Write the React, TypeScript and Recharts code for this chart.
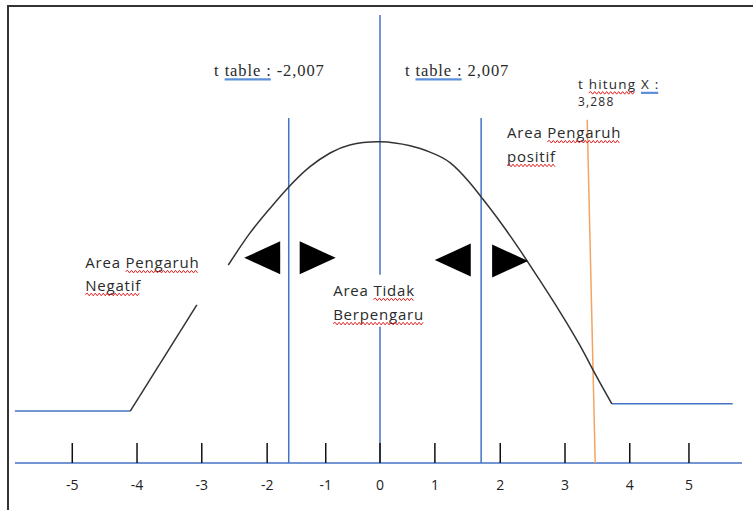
import { ComposedChart, Line, Scatter, XAxis, YAxis } from "recharts";

// x runs in t units, y is a 0..1 height of the sketch
const tickLabels = ["-5", "-4", "-3", "-2", "-1", "0", "1", "2", "3", "4", "5"];
// where each hand-drawn tick sits on the axis
const tickAt = [-4.99, -3.94, -2.89, -1.83, -0.88, 0, 0.89, 1.95, 3.0, 4.05, 5.01];

const baseline = [
  { x: -5.92, y: 0 },
  { x: 5.87, y: 0 },
];
const flatLeft = [
  { x: -5.92, y: 0.116 },
  { x: -4.05, y: 0.116 },
];
const flatRight = [
  { x: 3.76, y: 0.132 },
  { x: 5.72, y: 0.132 },
];
const curveLeft = [
  { x: -4.05, y: 0.116 },
  { x: -2.97, y: 0.353 },
];
const curveMain = [
  { x: -2.46, y: 0.442 },
  { x: -2.11, y: 0.513 },
  { x: -1.78, y: 0.569 },
  { x: -1.48, y: 0.616 },
  { x: -1.14, y: 0.661 },
  { x: -0.81, y: 0.692 },
  { x: -0.49, y: 0.71 },
  { x: 0, y: 0.717 },
  { x: 0.49, y: 0.708 },
  { x: 0.81, y: 0.694 },
  { x: 1.14, y: 0.67 },
  { x: 1.46, y: 0.625 },
  { x: 1.64, y: 0.594 },
  { x: 1.95, y: 0.538 },
  { x: 2.27, y: 0.475 },
  { x: 2.59, y: 0.408 },
  { x: 2.92, y: 0.337 },
  { x: 3.24, y: 0.263 },
  { x: 3.5, y: 0.196 },
  { x: 3.76, y: 0.132 },
];

const centerTop = [
  { x: 0, y: 1 },
  { x: 0, y: 0.42 },
];
const centerBottom = [
  { x: 0, y: 0.304 },
  { x: 0, y: 0 },
];
const tTableLeft = [
  { x: -1.48, y: 0.77 },
  { x: -1.48, y: 0 },
];
const tTableRight = [
  { x: 1.64, y: 0.77 },
  { x: 1.64, y: 0 },
];
const tHitungLine = [
  { x: 3.36, y: 0.766 },
  { x: 3.49, y: 0 },
];

const arrows = [
  { x: -1.91, y: 0.458, dir: "left" },
  { x: -1.01, y: 0.458, dir: "right" },
  { x: 1.18, y: 0.453, dir: "left" },
  { x: 2.11, y: 0.451, dir: "right" },
];

const tickPoints = tickAt.map((v, i) => ({ x: v, y: 0, label: tickLabels[i] }));

// each part: [text, kind] where kind is "" / wavy / blue
type Part = [string, string];
const notes: { x: number; y: number; font: string; size: number; parts: Part[] }[] = [
  { x: -2.69, y: 0.864, font: "serif", size: 16.5, parts: [["t ", ""], ["table :", "blue"], [" -2,007", ""]] },
  { x: 0.405, y: 0.864, font: "serif", size: 16.5, parts: [["t ", ""], ["table :", "blue"], [" 2,007", ""]] },
  { x: 3.21, y: 0.834, font: "sans", size: 13.5, parts: [["t ", ""], ["hitung", "wavy"], [" ", ""], ["X :", "blue"]] },
  { x: 3.21, y: 0.797, font: "sans", size: 12, parts: [["3,288", ""]] },
  { x: 2.06, y: 0.725, font: "sans", size: 15, parts: [["Area ", ""], ["Pengaruh", "wavy"]] },
  { x: 2.06, y: 0.672, font: "sans", size: 15, parts: [["positif", "wavy"]] },
  { x: -4.78, y: 0.435, font: "sans", size: 15, parts: [["Area ", ""], ["Pengaruh", "wavy"]] },
  { x: -4.78, y: 0.384, font: "sans", size: 15, parts: [["Negatif", "wavy"]] },
  { x: -0.76, y: 0.373, font: "sans", size: 15, parts: [["Area ", ""], ["Tidak", "wavy"]] },
  { x: -0.76, y: 0.319, font: "sans", size: 15, parts: [["Berpengaru", "wavy"]] },
];

const SERIF = "'Liberation Serif'";
const SANS = "'Open Sans'";

let ctx: CanvasRenderingContext2D | null = null;
const measure = (text: string, family: string, size: number, spacing: number) => {
  if (!ctx) ctx = document.createElement("canvas").getContext("2d");
  if (!ctx) return text.length * size * 0.55;
  ctx.font = `${size}px ${family}`;
  return ctx.measureText(text).width + spacing * text.length;
};

const wavyPath = (x0: number, x1: number, y: number) => {
  let d = `M${x0},${y}`;
  let up = true;
  for (let x = x0 + 2; x <= x1; x += 2) {
    d += ` L${x},${up ? y - 1.3 : y + 1.3}`;
    up = !up;
  }
  return d;
};

const Arrow = (props: any) => {
  const { cx, cy, payload } = props;
  const w = 36;
  const h = 33;
  const pts =
    payload.dir === "left"
      ? `${cx + w / 2},${cy - h / 2} ${cx + w / 2},${cy + h / 2} ${cx - w / 2},${cy}`
      : `${cx - w / 2},${cy - h / 2} ${cx - w / 2},${cy + h / 2} ${cx + w / 2},${cy}`;
  return <polygon points={pts} fill="#000" />;
};

const Tick = (props: any) => {
  const { cx, cy, payload } = props;
  return (
    <g>
      <line x1={cx} x2={cx} y1={cy - 20} y2={cy} stroke="#111" strokeWidth={1.5} />
      <text
        x={cx}
        y={cy + 27}
        textAnchor="middle"
        fontFamily="'Open Sans', sans-serif"
        fontSize={14}
        fill="#222"
      >
        {payload.label}
      </text>
    </g>
  );
};

const Note = (props: any) => {
  const { cx, cy, payload } = props;
  const serif = payload.font === "serif";
  const family = serif ? SERIF : SANS;
  const spacing = serif ? 0.9 : payload.size >= 15 ? 0.8 : 1.2;
  let x = cx;
  const items: any[] = [];
  payload.parts.forEach((p: Part, i: number) => {
    const w = measure(p[0], family, payload.size, spacing);
    const lead = p[0].startsWith(" ") ? measure(" ", family, payload.size, spacing) : 0;
    const trail = p[0].endsWith(" ") && p[0].trim() ? measure(" ", family, payload.size, spacing) : 0;
    items.push(
      <text
        key={"t" + i}
        x={x}
        y={cy}
        fontFamily={family}
        fontSize={payload.size}
        letterSpacing={spacing}
        fill="#2a2a2a"
        style={{ whiteSpace: "pre" }}
      >
        {p[0]}
      </text>
    );
    const x0 = x + lead;
    const x1 = x + w - trail - spacing;
    if (p[1] === "wavy") {
      items.push(
        <path key={"w" + i} d={wavyPath(x0, x1, cy + 3.5)} stroke="#e02020" strokeWidth={1} fill="none" />
      );
    } else if (p[1] === "blue") {
      items.push(
        <line key={"b" + i} x1={x0} x2={x1} y1={cy + 3.5} y2={cy + 3.5} stroke="#5b8fd9" strokeWidth={2.2} />
      );
    }
    x += w;
  });
  return <g>{items}</g>;
};

const blue = "#4472c4";

const App = () => {
  return (
    <div style={{ position: "absolute", left: 0, top: 0, width: 753, height: 510, background: "#fff" }}>
      <div
        style={{
          position: "absolute",
          left: 7,
          top: 5,
          width: 746,
          height: 505,
          borderTop: "2px solid #333",
          borderLeft: "2px solid #333",
          boxSizing: "border-box",
        }}
      />
      <ComposedChart
        width={753}
        height={510}
        margin={{ top: 15, right: 3, bottom: 47, left: 10 }}
        style={{ position: "absolute", left: 0, top: 0 }}
      >
        <XAxis type="number" dataKey="x" domain={[-6, 6]} hide />
        <YAxis type="number" dataKey="y" domain={[0, 1]} hide />
        <Line data={baseline} dataKey="y" stroke={blue} strokeWidth={1.5} dot={false} isAnimationActive={false} />
        <Line data={flatLeft} dataKey="y" stroke={blue} strokeWidth={1.5} dot={false} isAnimationActive={false} />
        <Line data={flatRight} dataKey="y" stroke={blue} strokeWidth={1.5} dot={false} isAnimationActive={false} />
        <Line data={centerTop} dataKey="y" stroke={blue} strokeWidth={1.5} dot={false} isAnimationActive={false} />
        <Line data={centerBottom} dataKey="y" stroke={blue} strokeWidth={1.5} dot={false} isAnimationActive={false} />
        <Line data={tTableLeft} dataKey="y" stroke={blue} strokeWidth={1.5} dot={false} isAnimationActive={false} />
        <Line data={tTableRight} dataKey="y" stroke={blue} strokeWidth={1.5} dot={false} isAnimationActive={false} />
        <Line data={tHitungLine} dataKey="y" stroke="#f4a460" strokeWidth={1.5} dot={false} isAnimationActive={false} />
        <Line data={curveLeft} dataKey="y" stroke="#333" strokeWidth={1.5} dot={false} isAnimationActive={false} />
        <Line data={curveMain} dataKey="y" type="natural" stroke="#333" strokeWidth={1.5} dot={false} isAnimationActive={false} />
        <Scatter data={tickPoints} dataKey="y" shape={<Tick />} isAnimationActive={false} />
        <Scatter data={arrows} dataKey="y" shape={<Arrow />} isAnimationActive={false} />
        <Scatter data={notes} dataKey="y" shape={<Note />} isAnimationActive={false} />
      </ComposedChart>
    </div>
  );
};

export default App;
